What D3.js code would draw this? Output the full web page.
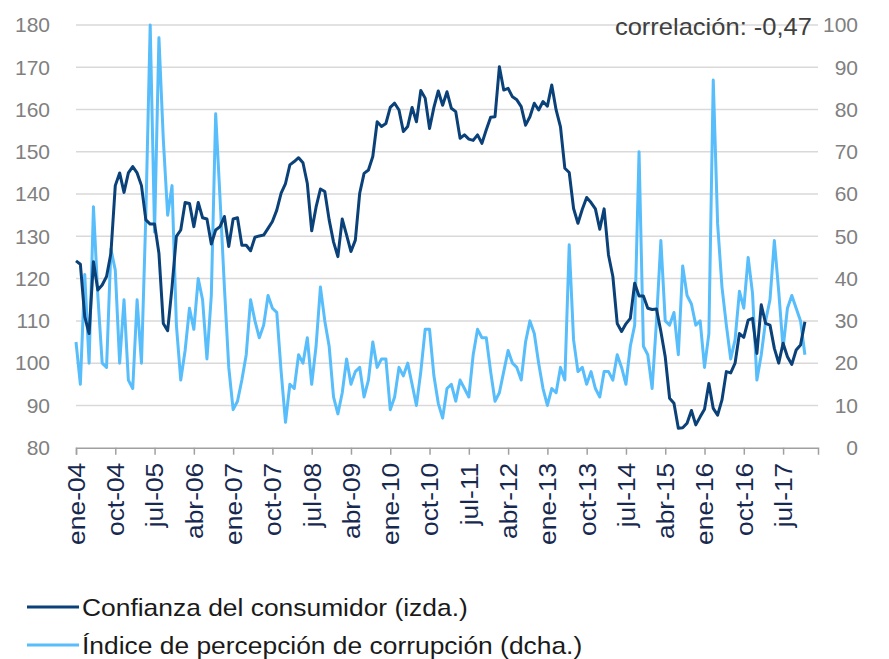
<!DOCTYPE html>
<html>
<head>
<meta charset="utf-8">
<script src="https://cdn.jsdelivr.net/npm/d3@7"></script>
<style>
  body { margin: 0; background: #fff; }
  svg { display: block; font-family: "Liberation Sans", Arial, sans-serif; }
</style>
</head>
<body>
<svg id="chart" width="889" height="659"></svg>
<script>
// Meses: ene-04 ... dic-17
const months = ['ene', 'feb', 'mar', 'abr', 'may', 'jun', 'jul', 'ago', 'sep', 'oct', 'nov', 'dic'];
const firstYear = 2004;
const nCategories = 171; // eje hasta mar-18, datos hasta dic-17
const tickStep = 9;

// Confianza del consumidor (izda.)
const confianza = [
    124.2, 123.4, 111, 107, 124, 117.3, 118.5, 120.5, 126, 142, 145, 140.4,
    145, 146.5, 145, 142, 133.9, 132.9, 132.9, 126, 109.4, 107.7, 118, 130,
    131.5, 138, 137.8, 132.3, 138, 134.4, 134.1, 128.2, 131.5, 132.3, 134.7, 127.6,
    134.1, 134.4, 127.9, 127.9, 126.6, 129.8, 130.1, 130.3, 131.9, 133.5, 136.2, 140.2,
    142.5, 146.9, 147.7, 148.6, 147.4, 142.5, 131.3, 136.9, 141.2, 140.6, 133.9, 128.7,
    125.2, 134.1, 130.3, 126.4, 129.1, 140.2, 144.9, 145.7, 148.9, 157.1, 156, 156.7,
    160.5, 161.5, 159.9, 154.8, 156, 160.5, 157.1, 164.5, 162.7, 155.5, 160.5, 164.4,
    161, 164.2, 160.3, 159.5, 153.2, 154, 153, 152.7, 154, 152, 155.2, 158.2,
    158.3, 170.1, 164.6, 165, 163, 162.3, 160.7, 156.3, 158.3, 161.5, 159.9, 161.9,
    160.8, 165.8, 159.9, 155.9, 146.1, 145.1, 136.6, 133.1, 136.4, 139.2, 138, 136.5,
    131.7, 136.5, 125.6, 120.5, 109.4, 107.5, 109.3, 110.6, 118.9, 115.9, 115.9, 113,
    112.7, 112.8, 107.5, 101.5, 91.7, 90.5, 84.6, 84.7, 85.8, 88.8, 85.4, 87.3,
    89.1, 95.2, 89.3, 87.7, 91.3, 98, 97.7, 100, 107, 106.1, 110.2, 110.6,
    102.3, 113.8, 109.4, 109, 103.5, 100, 104.7, 101.5, 99.7, 103.1, 104.3, 109.8
];

// Indice de percepcion de corrupcion (dcha.)
const corrupcion = [
    25, 15, 41, 20, 57, 36, 20, 19, 47, 42, 20, 35,
    16, 14, 35, 20, 55, 100, 51, 97, 73, 55, 62, 29,
    16, 23, 33, 28, 40, 35, 21, 36, 79, 59, 38, 19,
    9, 11, 16, 22, 35, 30, 26, 29, 36, 33, 32, 18,
    6, 15, 14, 22, 20, 26, 15, 24, 38, 30, 24, 12,
    8, 13, 21, 15, 18, 19, 12, 16, 25, 19, 21, 21,
    9, 12, 19, 17, 20, 15, 10, 18, 28, 28, 17, 10.5,
    7, 14, 15, 11, 16, 14, 12, 22, 28, 26, 26, 18,
    11, 13, 18, 23, 20, 19, 16, 25, 30, 27, 20, 14,
    10, 14, 13, 19, 16, 48, 25.5, 18, 19, 15, 18, 14,
    12, 18, 18, 16, 22, 19, 15, 24, 29, 70, 24, 22,
    14, 30, 49, 30, 29, 32, 22, 43, 36, 34, 29, 30,
    19, 27, 87, 53, 38, 29, 21, 25.5, 37, 33, 45, 36.5,
    16, 22, 30, 35, 49, 37, 23.5, 33, 36, 33, 30, 22
];

const leftTicks = [80, 90, 100, 110, 120, 130, 140, 150, 160, 170, 180];
const rightTicks = [0, 10, 20, 30, 40, 50, 60, 70, 80, 90, 100];
const legendLabels = ['Confianza del consumidor (izda.)', 'Índice de percepción de corrupción (dcha.)'];
const correlacion = 'correlación: -0,47';

const colors = { dark: '#0b4179', light: '#58bdfb', grid: '#d9d9d9', axis: '#a0a0a0' };

const svg = d3.select('#chart');
const plot = { left: 76, right: 818, top: 25, bottom: 447.7 };

const x = d3.scaleLinear().domain([0, nCategories - 1]).range([plot.left, plot.right]);
const yL = d3.scaleLinear().domain([80, 180]).range([plot.bottom, plot.top]);
const yR = d3.scaleLinear().domain([0, 100]).range([plot.bottom, plot.top]);

const catLabel = i => months[i % 12] + '-' + String((firstYear + Math.floor(i / 12)) % 100).padStart(2, '0');
const tickIdx = d3.range(0, nCategories, tickStep);

// rejilla
svg.append('g')
    .selectAll('line')
    .data(leftTicks.slice(1))
    .join('line')
    .attr('x1', plot.left).attr('x2', plot.right)
    .attr('y1', d => yL(d)).attr('y2', d => yL(d))
    .attr('stroke', colors.grid)
    .attr('stroke-width', 1.5);

// eje izquierdo
const axL = svg.append('g')
    .attr('transform', `translate(${plot.left},0)`)
    .call(d3.axisLeft(yL).tickValues(leftTicks).tickSize(0).tickPadding(26));
axL.select('.domain').remove();
axL.selectAll('text')
    .attr('font-size', 21)
    .attr('font-family', '"Liberation Sans", Arial, sans-serif')
    .attr('fill', '#808080');

// eje derecho
const axR = svg.append('g')
    .attr('transform', `translate(${plot.right},0)`)
    .call(d3.axisRight(yR).tickValues(rightTicks).tickSize(0).tickPadding(40));
axR.select('.domain').remove();
axR.selectAll('text')
    .attr('text-anchor', 'end')
    .attr('font-size', 21)
    .attr('font-family', '"Liberation Sans", Arial, sans-serif')
    .attr('fill', '#808080');

// eje x
const axX = svg.append('g')
    .attr('transform', `translate(0,${plot.bottom})`)
    .call(d3.axisBottom(x).tickValues(tickIdx).tickSize(7).tickFormat(catLabel));
axX.select('.domain').attr('stroke', colors.axis).attr('stroke-width', 1.5);
axX.selectAll('.tick line').attr('stroke', colors.axis).attr('stroke-width', 1.5);
axX.selectAll('text')
    .attr('font-size', 24)
    .attr('font-family', '"Liberation Sans", Arial, sans-serif')
    .attr('fill', '#17294f')
    .attr('text-anchor', 'end')
    .attr('dy', '0.35em')
    .attr('y', 0)
    .attr('transform', 'translate(0,15) rotate(-90) scale(1.1,1)');

// lineas
const lineL = d3.line().x((d, i) => x(i)).y(d => yL(d));
const lineR = d3.line().x((d, i) => x(i)).y(d => yR(d));

svg.append('path')
    .datum(corrupcion)
    .attr('d', lineR)
    .attr('fill', 'none')
    .attr('stroke', colors.light)
    .attr('stroke-width', 3)
    .attr('stroke-linejoin', 'round');

svg.append('path')
    .datum(confianza)
    .attr('d', lineL)
    .attr('fill', 'none')
    .attr('stroke', colors.dark)
    .attr('stroke-width', 3)
    .attr('stroke-linejoin', 'round');

// correlacion
svg.append('text')
    .attr('transform', 'translate(812,35) scale(1.11,1)')
    .attr('text-anchor', 'end')
    .attr('font-size', 23)
    .attr('fill', '#404040')
    .text(correlacion);

// leyenda
const legend = svg.append('g');
const legendColors = [colors.dark, colors.light];
legendLabels.forEach((label, i) => {
    const yy = 607 + i * 38;
    legend.append('line')
        .attr('x1', 27).attr('x2', 79)
        .attr('y1', yy).attr('y2', yy)
        .attr('stroke', legendColors[i])
        .attr('stroke-width', 3);
    legend.append('text')
        .attr('transform', `translate(82,${yy + 8.5}) scale(1.1,1)`)
        .attr('font-size', 24)
        .attr('fill', '#1a1a1a')
        .text(label);
});
</script>
</body>
</html>
